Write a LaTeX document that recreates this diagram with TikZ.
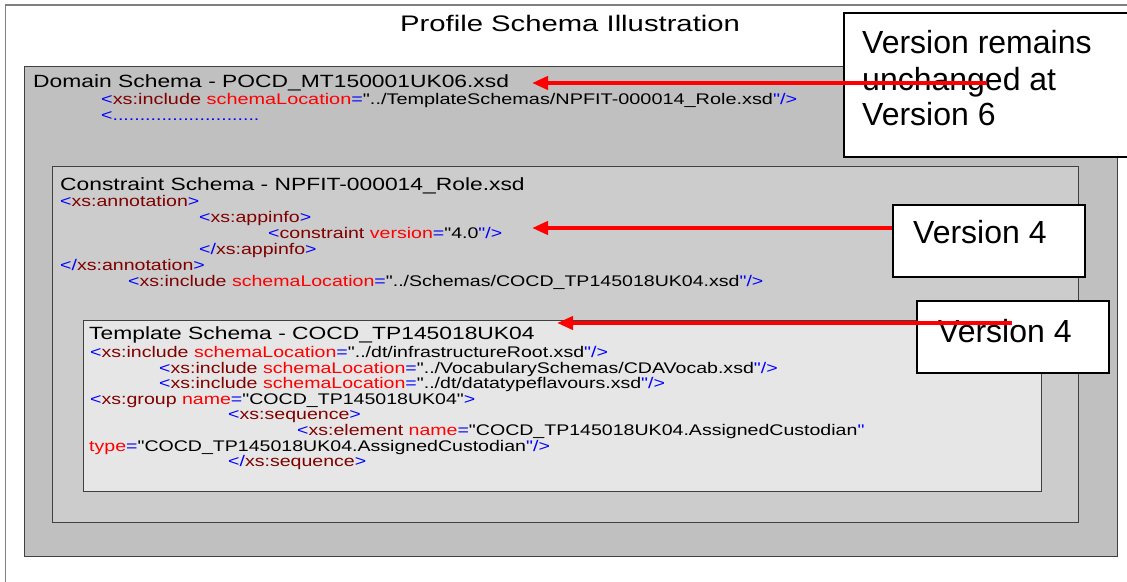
\documentclass[tikz,border=0pt]{standalone}
\usepackage{fontspec}
\newfontfamily\lsf{Liberation Sans}
\usepackage{graphicx}
\usetikzlibrary{arrows.meta}
\definecolor{xblue}{RGB}{0,0,255}
\definecolor{xmaroon}{RGB}{128,0,0}
\definecolor{xred}{RGB}{255,0,0}
\definecolor{domfill}{RGB}{192,192,192}
\definecolor{confill}{RGB}{204,204,204}
\definecolor{temfill}{RGB}{230,230,230}
\definecolor{boxline}{RGB}{64,64,64}
\newcommand{\xB}[1]{\textcolor{xblue}{#1}}
\newcommand{\xM}[1]{\textcolor{xmaroon}{#1}}
\newcommand{\xR}[1]{\textcolor{xred}{#1}}
\newcommand{\xS}[1]{\scalebox{1.27}[1]{#1}}
\newcommand{\xH}[1]{\scalebox{1.29}[1]{#1}}
\tikzset{
  schemabox/.style={draw=boxline, line width=1.3pt},
  callout/.style={draw=black, fill=white, line width=1.6pt, inner sep=0pt},
  code/.style={anchor=base west, inner sep=0pt, font=\lsf\fontsize{15.4}{16}\selectfont},
  heading/.style={anchor=base west, inner sep=0pt, font=\lsf\fontsize{17.7}{20}\selectfont},
  calltext/.style={anchor=base west, inner sep=0pt, font=\lsf\fontsize{32}{36}\selectfont},
  redarrow/.style={draw=xred, line width=4pt, -{Triangle[length=16pt,width=13pt]}}
}
\begin{document}
\begin{tikzpicture}[x=1pt,y=1pt]
\useasboundingbox (0,0) rectangle (1127,-581);
\begin{scope}
\clip (0,0) rectangle (1127,-581);
% outer frame
\draw[draw=gray, line width=1.8pt] (5.5,-5) rectangle (1140,-600);
% title
\node[anchor=base west, inner sep=0pt, font=\lsf\fontsize{22.5}{26}\selectfont] (title) at (400,-31)
  {\scalebox{1.3}[1]{Profile Schema Illustration}};
% nested boxes
\node[schemabox, fill=domfill, anchor=north west, minimum width=1093, minimum height=490, inner sep=0pt] (dom) at (23.5,-66) {};
\node[schemabox, fill=confill, anchor=north west, minimum width=1026, minimum height=356, inner sep=0pt] (con) at (52,-166) {};
\node[schemabox, fill=temfill, anchor=north west, minimum width=958, minimum height=171, inner sep=0pt] (tem) at (83,-320) {};
% domain schema text
\node[heading] (dt) at (33,-87) {\xH{Domain Schema - POCD\_MT150001UK06.xsd}};
\node[code] (d1) at (101,-104) {\scalebox{1.29}[1]{\xB{<}\xM{xs:include} \xR{schemaLocation}\xB{=}"../TemplateSchemas/NPFIT-000014\_Role.xsd\xB{"/>}}};
\node[code] (d2) at (101,-120) {\xS{\xB{<...........................}}};
% constraint schema text
\node[heading] (ct) at (60,-190) {\xH{Constraint Schema - NPFIT-000014\_Role.xsd}};
\node[code] (c1) at (60,-206) {\xS{\xB{<}\xM{xs:annotation}\xB{>}}};
\node[code] (c2) at (199,-222) {\xS{\xB{<}\xM{xs:appinfo}\xB{>}}};
\node[code] (c3) at (268,-238) {\xS{\xB{<}\xM{constraint} \xR{version}\xB{=}"4.0\xB{"/>}}};
\node[code] (c4) at (199,-254) {\xS{\xB{</}\xM{xs:appinfo}\xB{>}}};
\node[code] (c5) at (60,-270) {\xS{\xB{</}\xM{xs:annotation}\xB{>}}};
\node[code] (c6) at (128,-286) {\xS{\xB{<}\xM{xs:include} \xR{schemaLocation}\xB{=}"../Schemas/COCD\_TP145018UK04.xsd\xB{"/>}}};
% template schema text
\node[heading] (tt) at (89,-339) {\xH{Template Schema - COCD\_TP145018UK04}};
\node[code] (t1) at (90,-357) {\xS{\xB{<}\xM{xs:include} \xR{schemaLocation}\xB{=}"../dt/infrastructureRoot.xsd\xB{"/>}}};
\node[code] (t2) at (159,-373) {\xS{\xB{<}\xM{xs:include} \xR{schemaLocation}\xB{=}"../VocabularySchemas/CDAVocab.xsd\xB{"/>}}};
\node[code] (t3) at (159,-388) {\xS{\xB{<}\xM{xs:include} \xR{schemaLocation}\xB{=}"../dt/datatypeflavours.xsd\xB{"/>}}};
\node[code] (t4) at (90,-404) {\xS{\xB{<}\xM{xs:group} \xR{name}\xB{=}"COCD\_TP145018UK04"\xB{>}}};
\node[code] (t5) at (228,-419) {\xS{\xB{<}\xM{xs:sequence}\xB{>}}};
\node[code] (t6) at (297,-435) {\xS{\xB{<}\xM{xs:element} \xR{name}\xB{=}"COCD\_TP145018UK04.AssignedCustodian\xB{"}}};
\node[code] (t7) at (89,-451) {\xS{\xR{type}\xB{=}"COCD\_TP145018UK04.AssignedCustodian\xB{"/>}}};
\node[code] (t8) at (228,-466) {\xS{\xB{</}\xM{xs:sequence}\xB{>}}};
% callouts
\node[callout, anchor=north west, minimum width=300, minimum height=144] (v6) at (843,-12) {};
\node[calltext] (v6a) at (862,-53) {Version remains};
\node[calltext] (v6b) at (862,-90) {unchanged at};
\node[calltext] (v6c) at (862,-125) {Version 6};
\node[callout, anchor=north west, minimum width=192, minimum height=72] (v4a) at (892,-204) {};
\node[calltext] (v4at) at (913,-243) {Version 4};
\node[callout, anchor=north west, minimum width=192, minimum height=72] (v4b) at (916,-300) {};
\node[calltext] (v4bt) at (938,-342) {Version 4};
% arrows
\coordinate (a1s) at (987,-83);
\coordinate (a1e) at (532,-83);
\coordinate (a2s) at (v4a.west |- 0,-228);
\coordinate (a2e) at (532,-228);
\coordinate (a3s) at (1012,-323);
\coordinate (a3e) at (557,-323);
\draw[redarrow] (a1s) -- (a1e);
\draw[redarrow] (a2s) -- (a2e);
\draw[redarrow] (a3s) -- (a3e);
\end{scope}
\end{tikzpicture}
\end{document}
